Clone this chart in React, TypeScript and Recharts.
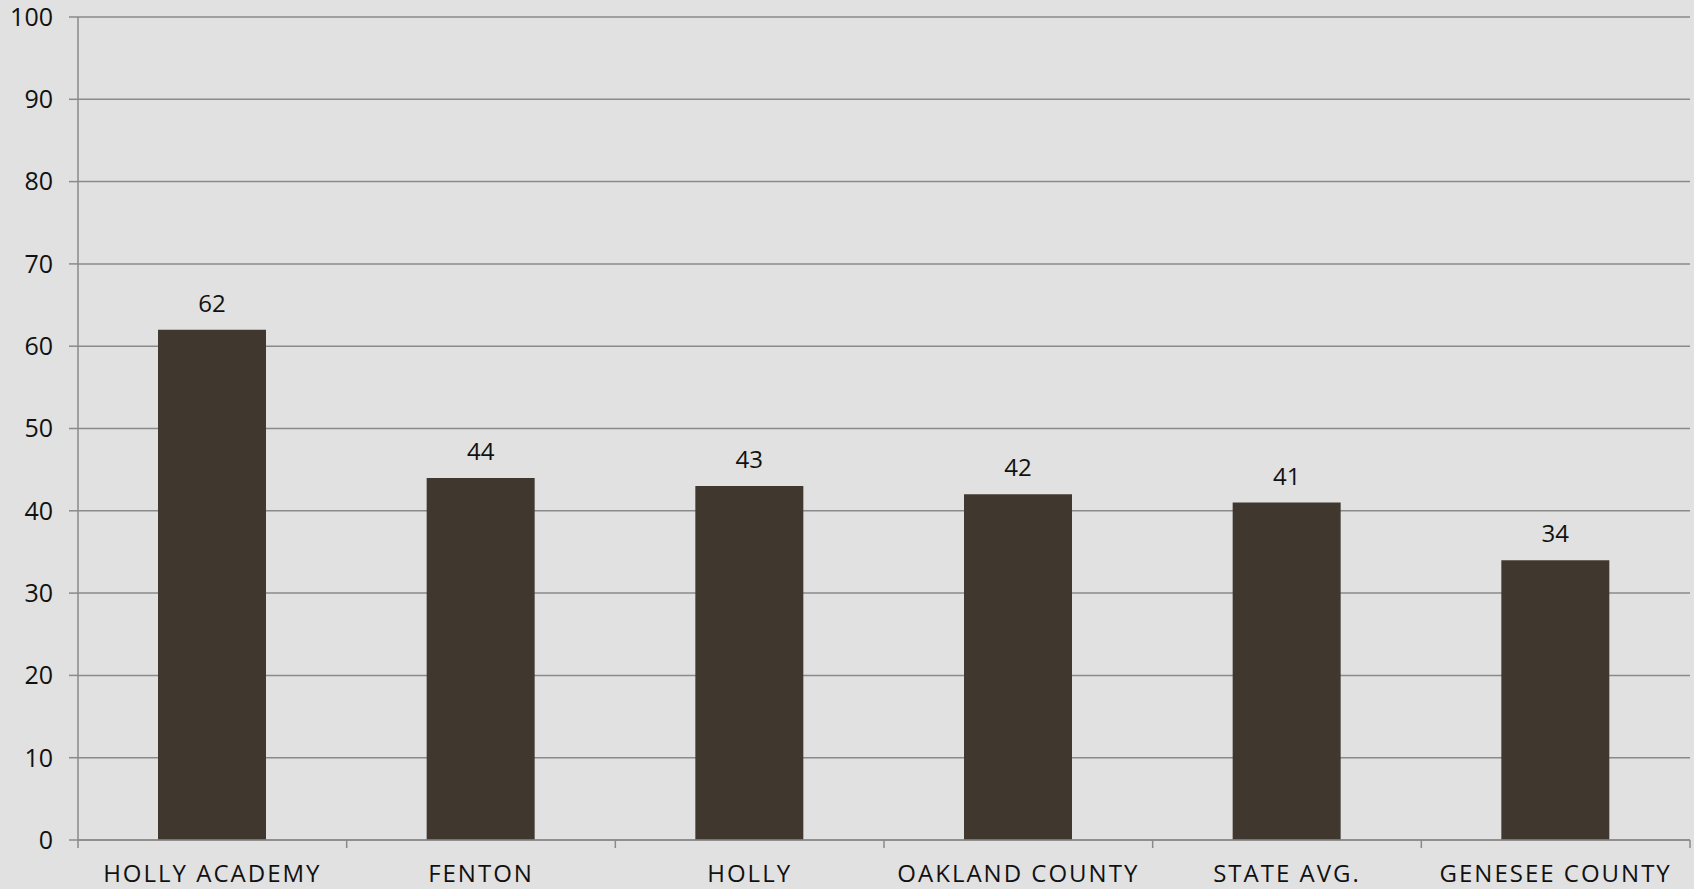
import React from "react";
import { BarChart, Bar, XAxis, YAxis, CartesianGrid, LabelList } from "recharts";

const categories = ["HOLLY ACADEMY", "FENTON", "HOLLY", "OAKLAND COUNTY", "STATE AVG.", "GENESEE COUNTY"];
const values = [62, 44, 43, 42, 41, 34];
const yTicks = [0, 10, 20, 30, 40, 50, 60, 70, 80, 90, 100];

const data = categories.map((name, i) => ({ name, value: values[i] }));

const FONT = "'Open Sans', sans-serif";
const AXIS = "#8a8a8a";

const XTick = (props: any) => {
  const { x, y, payload, index, visibleTicksCount } = props;
  const off = payload && payload.offset ? payload.offset : 0;
  const isLast = index === (visibleTicksCount ?? categories.length) - 1;
  return (
    <g>
      <line x1={x - off} x2={x - off} y1={y - 8} y2={y} stroke={AXIS} strokeWidth={1.5} />
      {isLast && <line x1={x + off} x2={x + off} y1={y - 8} y2={y} stroke={AXIS} strokeWidth={1.5} />}
      <text x={x} y={y + 34} textAnchor="middle" fill="#111" fontSize={24} fontFamily={FONT} letterSpacing={2}>
        {payload.value}
      </text>
    </g>
  );
};

export default function App() {
  return (
    <div style={{ position: "absolute", left: 0, top: 0, width: 1694, height: 889, background: "#e1e1e1" }}>
      <BarChart
        width={1694}
        height={889}
        data={data}
        margin={{ top: 17, right: 4, left: 0, bottom: 0 }}
        barCategoryGap="30%"
      >
        <CartesianGrid vertical={false} stroke={AXIS} strokeWidth={1.5} />
        <XAxis
          dataKey="name"
          height={49}
          axisLine={{ stroke: AXIS, strokeWidth: 1.5 }}
          tickLine={false}
          tick={<XTick />}
          interval={0}
        />
        <YAxis
          width={78}
          domain={[0, 100]}
          ticks={yTicks}
          interval={0}
          axisLine={{ stroke: AXIS, strokeWidth: 1.5 }}
          tickLine={{ stroke: AXIS, strokeWidth: 1.5 }}
          tickSize={9}
          tickMargin={16}
          tick={{ fill: "#111", fontSize: 25, fontFamily: FONT }}
        />
        <Bar dataKey="value" fill="#40382e" barSize={108} isAnimationActive={false}>
          <LabelList dataKey="value" position="top" offset={18} fill="#111" fontSize={24} fontFamily={FONT} />
        </Bar>
      </BarChart>
    </div>
  );
}
